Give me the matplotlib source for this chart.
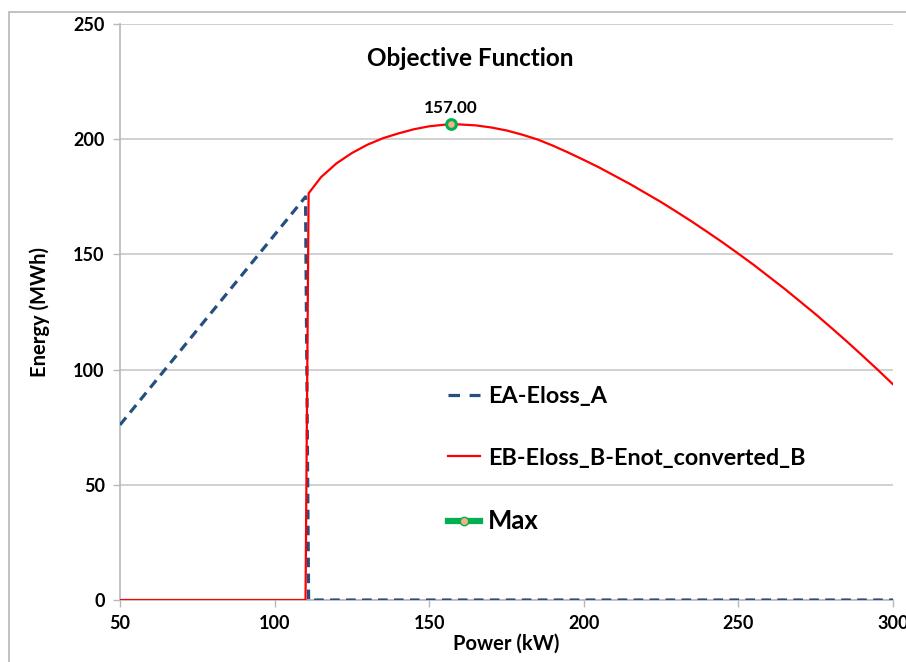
import matplotlib
matplotlib.use("Agg")
import matplotlib.pyplot as plt
from matplotlib.lines import Line2D
from matplotlib.patches import Rectangle

plt.rcParams["font.family"] = ["Lato", "DejaVu Sans"]
plt.rcParams["font.weight"] = "bold"

# EA-Eloss_A
ea_power = [50, 110, 111, 300]
ea_energy = [76, 175, 0, 0]

# EB-Eloss_B-Enot_converted_B
eb_power = [50, 110, 111, 115, 120, 125, 130, 135, 140, 145, 150, 155, 157,
            160, 165, 170, 175, 180, 185, 190, 195, 200, 205, 210, 215, 220,
            225, 230, 235, 240, 245, 250, 255, 260, 265, 270, 275, 280, 285,
            290, 295, 300]
eb_energy = [0, 0, 176.5, 183.5, 189.5, 194, 197.6, 200.4, 202.5, 204.3,
             205.6, 206.3, 206.5, 206.4, 206.0, 205.1, 203.8, 202.0, 199.9,
             197.2, 194.2, 191.0, 187.7, 184.1, 180.5, 176.6, 172.7, 168.5,
             164.2, 159.7, 155.1, 150.3, 145.4, 140.2, 135.0, 129.5, 124.0,
             118.2, 112.3, 106.2, 100.0, 93.6]

max_power = [157]
max_energy = [206.5]
max_label = "157.00"

x_ticks = [50, 100, 150, 200, 250, 300]
y_ticks = [0, 50, 100, 150, 200, 250]

W, H = 906, 662
fig = plt.figure(figsize=(W / 100, H / 100), dpi=100)
ax = fig.add_axes([120 / W, 62 / H, 773 / W, 576 / H])

# chart area frame
fig.patches.append(Rectangle((9 / W, -0.1), 1.2, (H - 12) / H + 0.1,
                             transform=fig.transFigure, fill=False,
                             edgecolor="#b8b8b8", linewidth=1.2))

ax.plot(ea_power, ea_energy, color="#254f7e", linewidth=2.3,
        dashes=(3.0, 2.0), label="EA-Eloss_A", zorder=3)
ax.plot(eb_power, eb_energy, color="#ff0000", linewidth=1.6,
        label="EB-Eloss_B-Enot_converted_B", zorder=4)
ax.plot(max_power, max_energy, linestyle="none", marker="o", markersize=7,
        markerfacecolor="#f4b183", markeredgecolor="#00b050",
        markeredgewidth=2.2, zorder=5)
ax.annotate(max_label, (max_power[0], max_energy[0]), xytext=(0, 6),
            textcoords="offset points", ha="center", va="bottom",
            fontsize=12.3, fontweight="bold")

ax.set_xlim(50, 300)
ax.set_ylim(0, 250)
ax.set_xticks(x_ticks)
ax.set_yticks(y_ticks)
ax.tick_params(labelsize=13, color="#b8b8b8", length=5, width=1, pad=6)
for lab in ax.get_xticklabels() + ax.get_yticklabels():
    lab.set_fontweight("bold")
ax.grid(axis="y", color="#c8c8c8", linewidth=1.2)
ax.set_axisbelow(True)
for side in ("top", "right"):
    ax.spines[side].set_visible(False)
for side in ("left", "bottom"):
    ax.spines[side].set_color("#b8b8b8")
    ax.spines[side].set_linewidth(1.2)

ax.set_xlabel("Power (kW)", fontsize=14.5, fontweight="bold", labelpad=1)
ax.set_ylabel("Energy (MWh)", fontsize=14.5, fontweight="bold", labelpad=17)
fig.text(470 / W, 1 - 58 / H, "Objective Function", ha="center",
         va="center", fontsize=17.5, fontweight="bold")

handles = [
    Line2D([], [], color="#254f7e", linewidth=2.3, dashes=(3.6, 3.0)),
    Line2D([], [], color="#ff0000", linewidth=1.6),
    Line2D([], [], color="#00b050", linewidth=4.5, marker="o", markersize=6,
           markerfacecolor="#f4b183", markeredgecolor="#00b050"),
]
leg = ax.legend(handles, ["EA-Eloss_A", "EB-Eloss_B-Enot_converted_B", "Max"],
                loc="upper left", bbox_to_anchor=(436 / W, 1 - 374 / H),
                bbox_transform=fig.transFigure, frameon=False,
                fontsize=16.8, handlelength=1.4, handletextpad=0.33,
                labelspacing=1.75, borderpad=0)
for t in leg.get_texts():
    t.set_fontweight("bold")
leg.get_texts()[2].set_fontsize(18.5)

fig.savefig("out.png", dpi=100)
